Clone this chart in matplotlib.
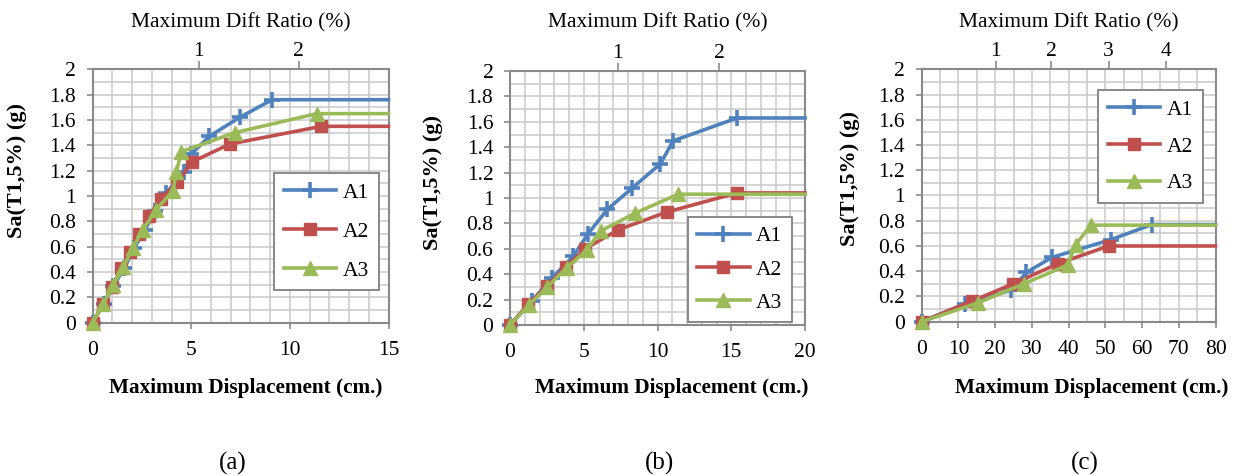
import matplotlib
matplotlib.use('Agg')
import matplotlib.pyplot as plt
from matplotlib.ticker import MultipleLocator, FuncFormatter

plt.rcParams['font.family'] = ['Liberation Serif', 'DejaVu Serif']

W, H = 1236, 476
fig = plt.figure(figsize=(W / 100, H / 100), dpi=100)

# ---------------- data ----------------
series_names = ['A1', 'A2', 'A3']

a_A1_x = [0, 0.55, 1.05, 1.6, 2.1, 2.65, 3.15, 3.7, 4.65, 5.0, 5.9, 7.45, 9.1]
a_A1_y = [0, 0.15, 0.29, 0.43, 0.59, 0.73, 0.88, 1.02, 1.19, 1.33, 1.47, 1.62, 1.76]
a_A2_x = [0, 0.54, 1.0, 1.46, 1.9, 2.37, 2.83, 3.47, 4.3, 5.05, 6.95, 11.6]
a_A2_y = [0, 0.15, 0.28, 0.43, 0.56, 0.70, 0.84, 0.98, 1.11, 1.27, 1.41, 1.55]
a_A3_x = [0, 0.54, 1.05, 1.56, 2.03, 2.54, 3.2, 4.07, 4.24, 4.5, 7.2, 11.36]
a_A3_y = [0, 0.15, 0.30, 0.44, 0.59, 0.73, 0.89, 1.04, 1.19, 1.35, 1.50, 1.65]

b_A1_x = [0, 1.5, 2.82, 4.29, 5.3, 6.6, 8.3, 10.2, 11.06, 15.4]
b_A1_y = [0, 0.19, 0.37, 0.54, 0.72, 0.91, 1.08, 1.27, 1.45, 1.63]
b_A2_x = [0, 1.24, 2.53, 3.8, 5.1, 7.34, 10.65, 15.4]
b_A2_y = [0, 0.165, 0.31, 0.46, 0.60, 0.75, 0.89, 1.04]
b_A3_x = [0, 1.3, 2.53, 3.84, 5.2, 6.14, 8.47, 11.4]
b_A3_y = [0, 0.16, 0.30, 0.45, 0.59, 0.74, 0.88, 1.03]

c_A1_x = [0, 11.7, 24.4, 28.5, 35.5, 51.5, 62.7]
c_A1_y = [0, 0.14, 0.25, 0.39, 0.51, 0.65, 0.77]
c_A2_x = [0, 13.8, 24.9, 37.1, 50.9]
c_A2_y = [0, 0.165, 0.30, 0.46, 0.60]
c_A3_x = [0, 15.4, 27.8, 39.8, 41.9, 46.1]
c_A3_y = [0, 0.15, 0.30, 0.45, 0.61, 0.765]

a_xmax, b_xmax, c_xmax = 15, 20, 80
a_xmajor, b_xmajor, c_xmajor = 5, 5, 10
a_xgrid, b_xgrid, c_xgrid = 1, 1, 5

# drift ratio (top axis) tick labels and their positions in cm
a_drift_labels = ['1', '2']
a_drift_pos = [5.37, 10.44]
b_drift_labels = ['1', '2']
b_drift_pos = [7.30, 14.19]
c_drift_labels = ['1', '2', '3', '4']
c_drift_pos = [20.2, 35.3, 50.9, 66.5]

y_max = 2.0
panel_labels = ['(a)', '(b)', '(c)']

# ---------------- style ----------------
colors = ['#4F81BD', '#C0504D', '#9BBB59']
markers = ['+', 's', '^']
msizes = [12, 8.5, 9.5]
mews = [2.6, 1, 1]
FS = 15.5

panels = [
    dict(series=[(a_A1_x, a_A1_y), (a_A2_x, a_A2_y), (a_A3_x, a_A3_y)],
         xmax=a_xmax, xmajor=a_xmajor, xgrid=a_xgrid,
         dlab=a_drift_labels, dpos=a_drift_pos,
         box=(92.7, 69.3, 388.5, 322.7),
         leg=(274, 173, 0.88, 0.45), ylab=(17, 170), xlab=(246, 388), plab=(233, 463)),
    dict(series=[(b_A1_x, b_A1_y), (b_A2_x, b_A2_y), (b_A3_x, b_A3_y)],
         xmax=b_xmax, xmajor=b_xmajor, xgrid=b_xgrid,
         dlab=b_drift_labels, dpos=b_drift_pos,
         box=(510, 71, 805, 325),
         leg=(688, 217, 0.62, 0.42), ylab=(433, 182), xlab=(672, 388), plab=(660, 463)),
    dict(series=[(c_A1_x, c_A1_y), (c_A2_x, c_A2_y), (c_A3_x, c_A3_y)],
         xmax=c_xmax, xmajor=c_xmajor, xgrid=c_xgrid,
         dlab=c_drift_labels, dpos=c_drift_pos,
         box=(921.7, 69.3, 1215.5, 321.7),
         leg=(1098, 90, 0.78, 0.45), ylab=(850, 178), xlab=(1092, 388), plab=(1085, 463)),
]

frame_col = '#8a8a8a'
grid_col = '#c9c9c9'

for p, plab in zip(panels, panel_labels):
    l, t, r, b = p['box']
    ax = fig.add_axes([l / W, 1 - b / H, (r - l) / W, (b - t) / H])
    ax.set_xlim(0, p['xmax'])
    ax.set_ylim(0, y_max)
    ax.xaxis.set_major_locator(MultipleLocator(p['xmajor']))
    ax.xaxis.set_minor_locator(MultipleLocator(p['xgrid']))
    ax.yaxis.set_major_locator(MultipleLocator(0.2))
    ax.yaxis.set_minor_locator(MultipleLocator(0.1))
    ax.yaxis.set_major_formatter(FuncFormatter(lambda v, pos: f"{v:g}"))
    ax.grid(which='both', color=grid_col, lw=1.1, zorder=0)
    ax.set_axisbelow(True)
    for s in ax.spines.values():
        s.set_color(frame_col)
        s.set_linewidth(1.5)
    ax.tick_params(which='major', direction='out', length=4, width=1.2, color=frame_col,
                   labelsize=FS, pad=9)
    ax.tick_params(axis='y', which='major', pad=8)
    ax.tick_params(which='minor', length=0)

    handles = []
    for (xs, ys), name, c, m, ms, mew in zip(p['series'], series_names, colors, markers, msizes, mews):
        xx = list(xs) + [p['xmax']]
        yy = list(ys) + [ys[-1]]
        ln, = ax.plot(xx, yy, color=c, lw=2.6, marker=m, ms=ms, mew=mew,
                      mfc=c, mec=c, markevery=list(range(len(xs))),
                      clip_on=False, label=name, zorder=3)
        handles.append(ln)

    lx, ly, lsp, bp = p['leg']
    leg = ax.legend(handles=handles, loc='upper left',
                    bbox_to_anchor=(lx / W, 1 - ly / H), bbox_transform=fig.transFigure,
                    borderaxespad=0, fancybox=False, framealpha=1, edgecolor='#7f7f7f',
                    fontsize=FS, handlelength=2.45, handletextpad=0.3,
                    labelspacing=lsp, borderpad=bp)
    leg.get_frame().set_linewidth(1.3)
    leg.set_zorder(10)

    ax2 = ax.twiny()
    ax2.set_xlim(ax.get_xlim())
    ax2.set_xticks(p['dpos'])
    ax2.set_xticklabels(p['dlab'])
    ax2.tick_params(direction='out', length=6, width=1.2, color=frame_col,
                    labelsize=FS, pad=0)
    for s in ax2.spines.values():
        s.set_visible(False)

    cx = (l + r) / 2
    fig.text(cx / W, 1 - 22.7 / H, 'Maximum Dift Ratio (%)', ha='center', va='center', fontsize=FS)
    yx, yy_ = p['ylab']
    fig.text(yx / W, 1 - yy_ / H, 'Sa(T1,5%) (g)', rotation=90, ha='center', va='center',
             fontsize=16, fontweight='bold')
    xx_, xy = p['xlab']
    fig.text(xx_ / W, 1 - xy / H, 'Maximum Displacement (cm.)', ha='center', va='center',
             fontsize=15.3, fontweight='bold')
    px, py = p['plab']
    fig.text(px / W, 1 - py / H, plab, ha='center', va='center', fontsize=18)

fig.savefig('out.png', dpi=100)
